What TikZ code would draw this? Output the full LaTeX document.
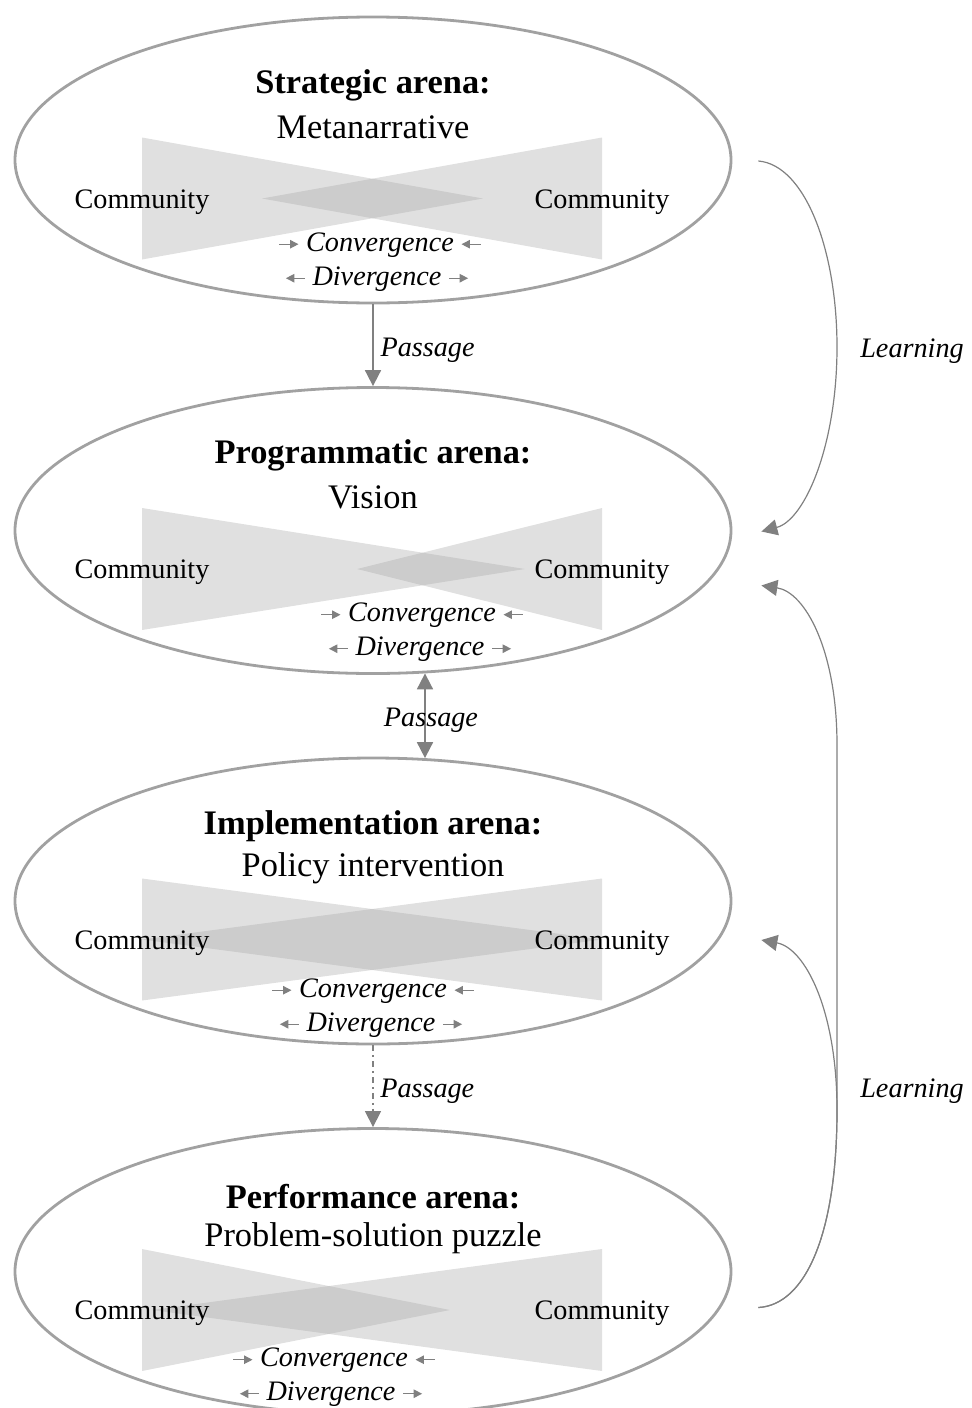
\documentclass[tikz,border=0pt]{standalone}
\usepackage{fontspec}
\setmainfont{Liberation Serif}
\usetikzlibrary{shapes.geometric,arrows.meta}
\definecolor{rimgray}{gray}{0.63}
\definecolor{arrgray}{gray}{0.5}
\tikzset{
	arena/.style={ellipse,draw=rimgray,line width=1.4pt,minimum width=358pt,minimum height=143pt,inner sep=0pt},
	wedge/.style={fill=black!34,fill opacity=0.355},
	title/.style={font=\fontsize{17.2}{20}\selectfont\bfseries,yshift=-1.5pt},
	subtitle/.style={font=\fontsize{17.2}{20}\selectfont,yshift=-1.5pt},
	small/.style={font=\fontsize{14.1}{17}\selectfont,yshift=-1.5pt},
	slant/.style={font=\fontsize{14.1}{17}\selectfont\itshape,yshift=-1.5pt},
	tip/.style={-{Triangle[length=8pt,width=8pt]}},
	passage/.style={draw=arrgray,line width=0.9pt,tip},
	learn/.style={draw=arrgray,line width=0.6pt,tip},
	tipright/.style={-{Triangle[length=4.2pt,width=4.2pt]}},
	tipleft/.style={{Triangle[length=4.2pt,width=4.2pt]}-},
}
\newcommand{\garrow}[1]{\tikz[baseline=-0.55ex]\draw[arrgray,line width=0.6pt,#1](0pt,0pt)--(9.5pt,0pt);}
\begin{document}
\begin{tikzpicture}[x=0.5pt,y=-0.5pt, line join=round]
	\useasboundingbox (0,0) rectangle (971,1408);
	% the four arenas
	\foreach \n/\cy/\la/\ra/\cx/\dx/\cv/\ttl/\sub in {
		strat/160/483/262/380/377/82/Strategic arena:/Metanarrative,
		prog/530.5/525/357/422/420/82/Programmatic arena:/Vision,
		impl/901/602/142/373/371/87/Implementation arena:/Policy intervention,
		perf/1271.5/450/152/334/331/86/Performance arena:/Problem-solution puzzle}{
		\node[arena] (\n) at (373,\cy) {};
		\fill[wedge] (142,\cy-22.5)--(\la,\cy+38.5)--(142,\cy+99.5)--cycle;
		\fill[wedge] (602,\cy-22.5)--(\ra,\cy+38.5)--(602,\cy+99.5)--cycle;
		\node[title] (\n-ttl) at (373,\cy-78) {\ttl};
		\node[subtitle] (\n-sub) at (373,\cy-36) {\sub};
		\node[small] (\n-cl) at (142,\cy+39) {Community};
		\node[small] (\n-cr) at (602,\cy+39) {Community};
		\node[small] (\n-conv) at (\cx,\cy+\cv) {\garrow{tipright} \textit{Convergence} \garrow{tipleft}};
		\node[small] (\n-div) at (\dx,\cy+\cv+34) {\garrow{tipleft} \textit{Divergence} \garrow{tipright}};
	}
	% passages
	\draw[passage] (strat.south)--node[midway,right,slant,text=black,yshift=-1pt]{Passage}(prog.north);
	\draw[passage,{Triangle[length=8pt,width=8pt]}-{Triangle[length=8pt,width=8pt]}] (prog.290)--node[midway,xshift=3pt,slant,text=black,yshift=-1pt]{Passage}(impl.70);
	\draw[passage,dash dot,line width=0.6pt] (impl.south)--node[midway,right,slant,text=black,yshift=-1pt]{Passage}(perf.north);
	% learning loops
	\path (strat.east) ++(26,1) coordinate (ls1)
	(prog.east) ++(29,1) coordinate (lp1)
	(prog.east) ++(29,55) coordinate (lp2)
	(impl.east) ++(29,39) coordinate (li)
	(perf.east) ++(26,36) coordinate (lf);
	\draw[learn] (ls1) .. controls (805,165) and (837,250) .. (837,347) .. controls (837,445) and (805,520) .. (lp1);
	\draw[learn] (lf) .. controls (805,1305) and (837,1235) .. (837,1110)--(837,745) .. controls (837,650) and (805,592) .. (lp2);
	\draw[learn] (lf) .. controls (805,1305) and (837,1235) .. (837,1110) .. controls (837,1010) and (805,948) .. (li);
	\node[slant] (learn1) at (912,348) {Learning};
	\node[slant] (learn2) at (912,1088) {Learning};
\end{tikzpicture}
\end{document}
